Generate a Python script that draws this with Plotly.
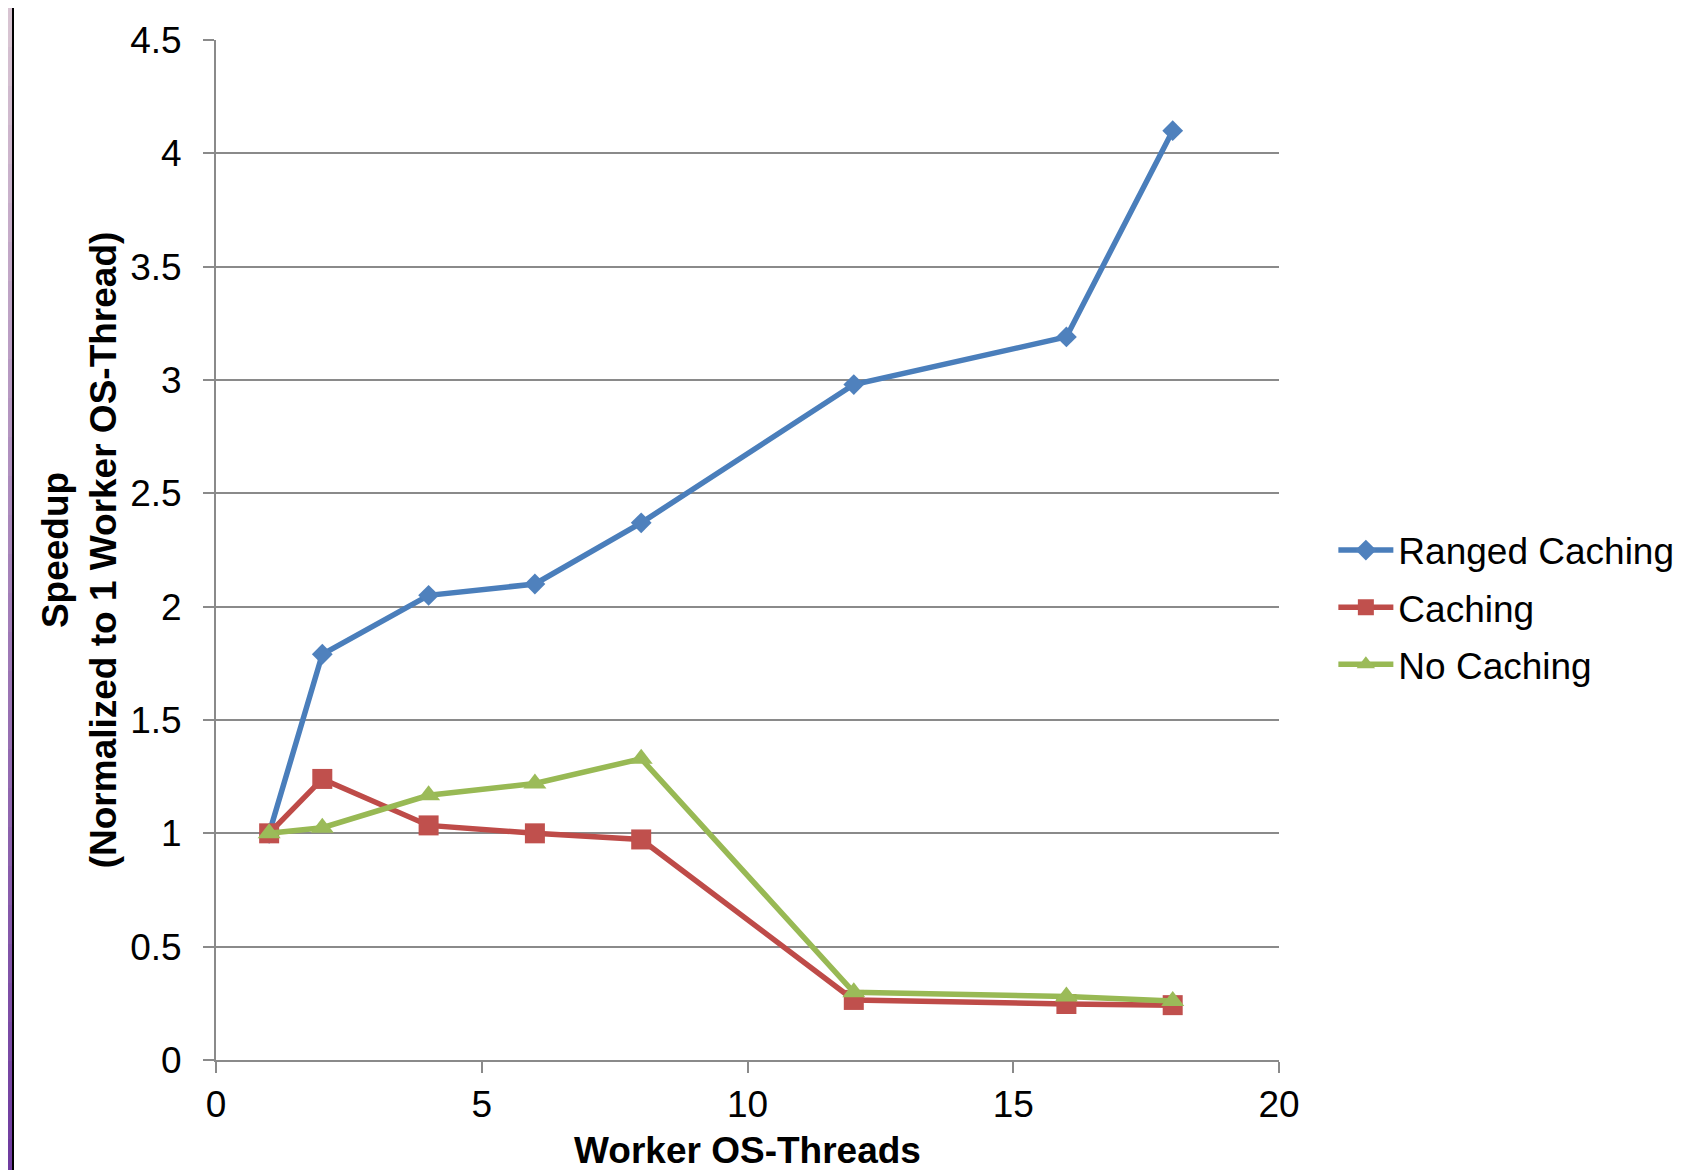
import plotly.graph_objects as go

threads = [1, 2, 4, 6, 8, 12, 16, 18]
ranged_caching = [1.0, 1.79, 2.05, 2.10, 2.37, 2.98, 3.19, 4.10]
caching = [1.0, 1.24, 1.035, 1.0, 0.973, 0.265, 0.247, 0.242]
no_caching = [1.0, 1.025, 1.168, 1.22, 1.329, 0.299, 0.28, 0.26]

series = [
    ("Ranged Caching", ranged_caching, "#4A7EBB", "#4F81BD", "diamond", 16),
    ("Caching", caching, "#BE4B48", "#C0504D", "square", 20),
    ("No Caching", no_caching, "#98B954", "#9BBB59", "triangle-up", 20),
]

FONT = "Liberation Sans, Arial, sans-serif"
GRID = "#8a8a8a"

# page body has an 8px margin; place the plot so the window coordinates match
L, T, PW, PH = 208, 32, 1063, 1020
W, H = 1686, 1170

fig = go.Figure()
for i, (name, vals, lc, mc, sym, ms) in enumerate(series):
    fig.add_trace(go.Scatter(
        x=threads, y=vals, name=name, mode="lines+markers",
        legendgroup=f"g{i}",
        line=dict(color=lc, width=5.5),
        marker=dict(symbol=sym, size=ms, color=mc, line=dict(width=0)),
    ))

# decorative left border (slide edge)
shapes = []
n = 30
top_c = (216, 196, 210)
bot_c = (112, 60, 160)
for k in range(n):
    t = k / (n - 1)
    c = tuple(int(top_c[j] + (bot_c[j] - top_c[j]) * t) for j in range(3))
    shapes.append(dict(type="rect", xref="paper", yref="paper",
                       x0=-L / PW, x1=(4 - L) / PW,
                       y1=1 + T / PH - k * (H / PH) / n,
                       y0=1 + T / PH - (k + 1) * (H / PH) / n,
                       line=dict(width=0), fillcolor="rgb(%d,%d,%d)" % c, layer="above"))
shapes.append(dict(type="rect", xref="paper", yref="paper",
                   x0=(4 - L) / PW, x1=(6 - L) / PW, y0=-(H - T - PH) / PH, y1=1 + T / PH,
                   line=dict(width=0), fillcolor="black", layer="above"))

fig.update_layout(
    width=W, height=H,
    margin=dict(l=L, r=W - L - PW, t=T, b=H - T - PH, autoexpand=False),
    paper_bgcolor="white", plot_bgcolor="white",
    font=dict(family=FONT, size=37, color="black"),
    showlegend=True,
    legend=dict(xref="container", yref="container", x=0.7861, y=0.4876,
                xanchor="left", yanchor="middle",
                font=dict(size=37), tracegroupgap=6, itemwidth=55,
                bgcolor="rgba(0,0,0,0)"),
    shapes=shapes,
    xaxis=dict(range=[0, 20], dtick=5, tick0=0, showgrid=False, zeroline=False,
               showline=True, linecolor=GRID, linewidth=2,
               ticks="outside", ticklen=11, tickwidth=2, tickcolor=GRID,
               tickfont=dict(size=37),
               title=dict(text="<b>Worker OS-Threads</b>", font=dict(size=37), standoff=13)),
    yaxis=dict(range=[0, 4.5], dtick=0.5, tick0=0, showgrid=True, gridcolor=GRID, gridwidth=2,
               zeroline=False, showline=True, linecolor=GRID, linewidth=2,
               ticks="outside", ticklen=11, tickwidth=2, tickcolor=GRID,
               tickfont=dict(size=37), ticklabelstandoff=14,
               title=dict(text="<b>Speedup<br>(Normalized to 1 Worker OS-Thread)</b>",
                          font=dict(size=37), standoff=2)),
)

fig.write_html("out.html")
